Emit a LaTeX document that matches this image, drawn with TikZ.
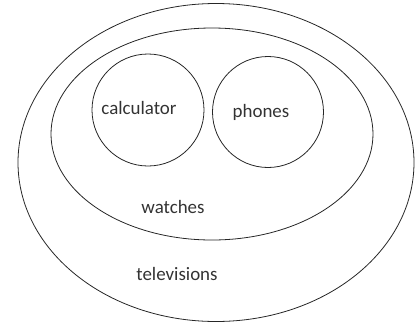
\documentclass[tikz,border=0pt]{standalone}
\usepackage{fontspec}
\setmainfont{Carlito}
\usetikzlibrary{shapes.geometric}

\begin{document}
\begin{tikzpicture}[
    x=1bp, y=-1bp,
    set/.style={draw=black!85, line width=0.8pt, ellipse, inner sep=0pt},
    subset/.style={draw=black!85, line width=0.8pt, circle, inner sep=0pt},
    label text/.style={font=\fontsize{19}{22}\selectfont, text=black!80}
]
\useasboundingbox (0,0) rectangle (416,325);

% Mengen
\node[set, minimum width=396bp, minimum height=318bp] (TV) at (216, 162.5) {};
\node[set, minimum width=322bp, minimum height=212bp] (W) at (212, 134) {};
\node[subset, minimum size=112bp] (C) at (148, 110) {};
\node[subset, minimum size=111bp] (P) at (268, 112) {};

% Beschriftungen
\node[label text] (Clab) at (139, 108) {calculator};
\node[label text] (Plab) at (261, 112) {phones};
\node[label text] (Wlab) at (173, 207) {watches};
\node[label text] (TVlab) at (177, 274) {televisions};

\end{tikzpicture}
\end{document}
